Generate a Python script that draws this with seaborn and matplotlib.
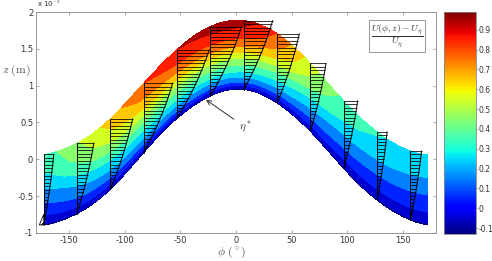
import numpy as np
import matplotlib
matplotlib.use('Agg')
import matplotlib.pyplot as plt
import matplotlib.colors as mcolors
from matplotlib.patches import Polygon
import seaborn as sns

# values (z in units of 1e-3 m)
phi_s = [-172, -150, -125, -100, -75, -50, -25, 0, 25, 50, 75, 100, 125, 150, 172]
z_bot = [-0.92, -0.80, -0.60, -0.22, 0.25, 0.62, 0.87, 1.0, 0.90, 0.64, 0.27, -0.20, -0.55, -0.80, -0.92]
z_top = [0.04, 0.15, 0.36, 0.74, 1.18, 1.55, 1.83, 1.92, 1.85, 1.58, 1.18, 0.72, 0.38, 0.12, 0.04]
u_top = [0.34, 0.45, 0.58, 0.72, 0.84, 0.91, 0.96, 0.97, 0.9, 0.7, 0.47, 0.36, 0.31, 0.28, 0.27]
u_wall = -0.12

# fraction of height vs fraction of velocity across the layer
s_read = [0, 0.1, 0.25, 0.45, 0.62, 0.8, 1.0]
g_read = [0, 0.2, 0.39, 0.58, 0.77, 0.91, 1.0]

# velocity profiles: position (deg) and length at the free surface (deg)
phi_prof = [-173, -143, -113, -83, -53, -23, 7, 37, 67, 97, 127, 157]
len_prof = [9, 15, 20, 26, 29, 28, 26, 20, 14, 12.5, 9, 10]

levels = [-0.2, -0.1, 0, 0.1, 0.2, 0.3, 0.4, 0.5, 0.6, 0.7, 0.8, 0.9, 1.0]
clim = (-0.13, 0.99)

sns.set_style('ticks')
plt.rcParams['font.family'] = ['DejaVu Sans']
plt.rcParams['mathtext.fontset'] = 'cm'
plt.rcParams['axes.unicode_minus'] = False

fig = plt.figure(figsize=(4.92, 2.61), dpi=100)
ax = fig.add_axes([36/492, 28/261, 400/492, 221/261])
cax = fig.add_axes([444/492, 27/261, 32/492, 222/261])


def smooth_line(xs, ys, xf, win=25):
    # linear fill between the read points, then a running mean to round the corners
    y = np.interp(xf, xs, ys)
    yp = np.pad(y, win, mode='edge')
    k = np.ones(2 * win + 1) / (2 * win + 1)
    return np.convolve(yp, k, mode='same')[win:-win]


# field on a curvilinear grid
phi_f = np.linspace(phi_s[0], phi_s[-1], 400)
s_f = np.linspace(0, 1, 120)
bot = smooth_line(phi_s, z_bot, phi_f)
top = smooth_line(phi_s, z_top, phi_f)
Z = bot[None, :] + s_f[:, None] * (top - bot)[None, :]
P = np.broadcast_to(phi_f, Z.shape)
ut = smooth_line(phi_s, u_top, phi_f)
g = np.interp(s_f, s_read, g_read)
U = u_wall + (ut[None, :] - u_wall) * g[:, None]

norm = mcolors.Normalize(vmin=clim[0], vmax=clim[1])
ax.contourf(P, Z, U, levels=levels, cmap='jet', norm=norm)

# hatched velocity profiles
s_h = np.linspace(0, 1, 21)
s_c = np.linspace(0, 1, 60)
for i, (p, L) in enumerate(zip(phi_prof, len_prof)):
    zb = np.interp(p, phi_f, bot)
    zt = np.interp(p, phi_f, top)
    h = zt - zb
    u_h = s_h * (1.3 - 0.3 * s_h)
    ax.hlines(zb + s_h * h, p, p + L * u_h, color='black', lw=0.55)
    ax.plot([p, p], [zb, zt], color='black', lw=0.7)
    sns.lineplot(x=p + L * s_c * (1.3 - 0.3 * s_c), y=zb + s_c * h, ax=ax,
                 color='black', lw=0.7, sort=False, estimator=None)
    if i == 0:
        ax.add_patch(Polygon([(p, zb + 0.15 * h), (p - 4, zb), (p, zb)],
                             closed=True, fill=False, hatch='////', ec='black', lw=0.6))

ax.annotate(r'$\eta^*$', xy=(-29, 0.83), xytext=(3, 0.43), fontsize=8, color='#333333',
            ha='left', va='center',
            arrowprops=dict(arrowstyle='->', color='#333333', lw=0.7))

ax.text(0.9025, 0.891, r'$\dfrac{U(\phi,z)-U_\eta}{U_\eta}$', transform=ax.transAxes,
        ha='center', va='center', fontsize=7, color='#333333',
        bbox=dict(boxstyle='square,pad=0.2', fc='white', ec='#888888', lw=0.6))

ax.set_xlim(-180, 180)
ax.set_ylim(-1, 2)
ax.set_xticks([-150, -100, -50, 0, 50, 100, 150])
ax.set_yticks([-1, -0.5, 0, 0.5, 1, 1.5, 2])
ax.set_yticklabels(['%g' % v for v in [-1, -0.5, 0, 0.5, 1, 1.5, 2]])
ax.tick_params(direction='in', top=True, right=True, length=2.5, width=0.5,
               labelsize=6, colors='#888888', labelcolor='#333333', pad=2)
for sp in ax.spines.values():
    sp.set_visible(True)
    sp.set_color('#888888')
    sp.set_linewidth(0.6)

fig.text(37/492, 1 - 4/261, r'x 10$^{-3}$', fontsize=5, color='#333333', va='center')
fig.text(2/492, 1 - 70/261, r'$z\ \mathrm{(m)}$', fontsize=8.5, color='#555555', ha='left', va='center')
fig.text(231/492, 1 - 252/261, r'$\phi\ (^\circ)$', fontsize=8.5, color='#555555', ha='center', va='center')

sm = plt.cm.ScalarMappable(norm=norm, cmap='jet')
cb = fig.colorbar(sm, cax=cax)
cb.set_ticks([-0.1, 0, 0.1, 0.2, 0.3, 0.4, 0.5, 0.6, 0.7, 0.8, 0.9])
cb.set_ticklabels(['%g' % v for v in [-0.1, 0, 0.1, 0.2, 0.3, 0.4, 0.5, 0.6, 0.7, 0.8, 0.9]])
cax.tick_params(labelsize=5.5, length=1.5, width=0.5, colors='#888888', labelcolor='#333333', pad=0.5)
cb.outline.set_edgecolor('#888888')
cb.outline.set_linewidth(0.6)

fig.savefig('out.png', dpi=100)
